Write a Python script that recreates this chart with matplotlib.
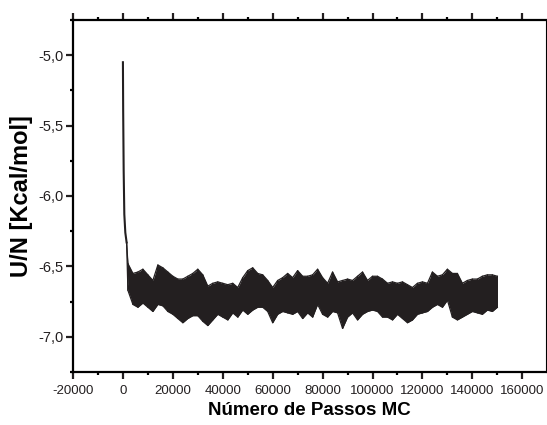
import matplotlib.pyplot as plt
import numpy as np
from matplotlib.ticker import MultipleLocator, FuncFormatter

plt.rcParams['font.family'] = ['Liberation Sans', 'DejaVu Sans']

# initial fast decay of the energy
decay_steps = [0, 100, 300, 560, 960, 1480]
decay_energy = [-5.05, -5.39, -5.82, -6.13, -6.26, -6.33]

# fluctuating plateau: upper and lower envelope sampled every 2000 MC steps
steps = np.arange(2000, 150001, 2000)
upper = [-6.48, -6.55, -6.54, -6.52, -6.56, -6.60, -6.49, -6.51, -6.54, -6.57,
         -6.59, -6.59, -6.57, -6.55, -6.52, -6.56, -6.64, -6.62, -6.61, -6.62,
         -6.63, -6.62, -6.65, -6.58, -6.53, -6.51, -6.55, -6.56, -6.60, -6.65,
         -6.60, -6.58, -6.55, -6.58, -6.53, -6.57, -6.57, -6.56, -6.52, -6.58,
         -6.62, -6.54, -6.61, -6.60, -6.59, -6.60, -6.57, -6.54, -6.60, -6.57,
         -6.57, -6.59, -6.62, -6.61, -6.62, -6.61, -6.63, -6.65, -6.62, -6.61,
         -6.62, -6.54, -6.57, -6.56, -6.52, -6.55, -6.55, -6.62, -6.60, -6.59,
         -6.59, -6.57, -6.56, -6.56, -6.57]
lower = [-6.67, -6.77, -6.79, -6.76, -6.79, -6.82, -6.77, -6.78, -6.82, -6.84,
         -6.87, -6.90, -6.87, -6.85, -6.85, -6.89, -6.92, -6.88, -6.84, -6.86,
         -6.88, -6.83, -6.86, -6.81, -6.84, -6.81, -6.79, -6.79, -6.82, -6.90,
         -6.84, -6.82, -6.83, -6.84, -6.82, -6.87, -6.83, -6.86, -6.77, -6.84,
         -6.86, -6.82, -6.83, -6.94, -6.86, -6.83, -6.88, -6.84, -6.82, -6.81,
         -6.82, -6.86, -6.86, -6.88, -6.84, -6.87, -6.90, -6.88, -6.84, -6.83,
         -6.82, -6.79, -6.77, -6.79, -6.74, -6.86, -6.88, -6.86, -6.84, -6.82,
         -6.83, -6.84, -6.81, -6.82, -6.79]

color = '#231f20'

fig = plt.figure(figsize=(5.47, 4.25), dpi=100)
ax = fig.add_axes([73 / 547, 1 - 372 / 425, 473 / 547, 352 / 425])

# fast decay, then the noisy plateau drawn as a dense band that opens from it
band_x = np.concatenate([decay_steps[-1:], steps])
band_hi = np.concatenate([decay_energy[-1:], upper])
band_lo = np.concatenate([decay_energy[-1:], lower])

ax.plot(decay_steps, decay_energy, color=color, linewidth=1.5)
ax.fill_between(band_x, band_lo, band_hi, color=color, linewidth=0)
zig_x = np.ravel(np.column_stack([steps, steps]))
zig_y = np.ravel(np.column_stack([upper, lower]))
ax.plot(zig_x, zig_y, color=color, linewidth=0.9)
ax.plot(band_x, band_hi, color=color, linewidth=0.9)
ax.plot(band_x, band_lo, color=color, linewidth=0.9)

ax.set_xlim(-20000, 169500)
ax.set_ylim(-7.25, -4.75)

ax.xaxis.set_major_locator(MultipleLocator(20000))
ax.xaxis.set_minor_locator(MultipleLocator(10000))
ax.yaxis.set_major_locator(MultipleLocator(0.5))
ax.yaxis.set_minor_locator(MultipleLocator(0.25))
ax.xaxis.set_major_formatter(FuncFormatter(lambda v, p: f'{v:.0f}'))
ax.yaxis.set_major_formatter(FuncFormatter(lambda v, p: f'{v:.1f}'.replace('.', ',')))

for side in ['left', 'bottom', 'top']:
    ax.spines[side].set_linewidth(1.6)
ax.spines['right'].set_linewidth(0.8)

ax.tick_params(which='major', direction='out', length=5, width=1.6,
               colors='#231f20', top=True, right=False)
ax.tick_params(which='minor', direction='out', length=2.5, width=1.6,
               top=True, right=False)
ax.tick_params(axis='x', which='major', labelsize=9.5, pad=4)
ax.tick_params(axis='y', which='major', labelsize=10.5, pad=1.5)

ax.set_xlabel('Número de Passos MC', fontsize=13.5, fontweight='bold', labelpad=4)
ax.set_ylabel('U/N [Kcal/mol]', fontsize=17, fontweight='bold', labelpad=4)

plt.savefig('out.png', dpi=100)
